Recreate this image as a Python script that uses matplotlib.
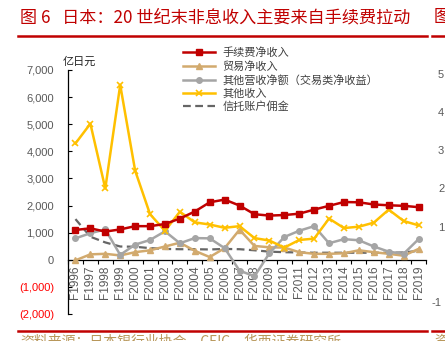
import numpy as np
import matplotlib
matplotlib.use("Agg")
import matplotlib.pyplot as plt

plt.rcParams['font.family'] = ['Liberation Sans', 'Noto Sans CJK SC', 'DejaVu Sans']
CJK = ['Noto Sans CJK SC', 'DejaVu Sans']

years = ['F1996', 'F1997', 'F1998', 'F1999', 'F2000', 'F2001', 'F2002', 'F2003',
         'F2004', 'F2005', 'F2006', 'F2007', 'F2008', 'F2009', 'F2010', 'F2011',
         'F2012', 'F2013', 'F2014', 'F2015', 'F2016', 'F2017', 'F2018', 'F2019']

# 亿日元
fee_net = [1100, 1160, 1040, 1120, 1240, 1240, 1320, 1520, 1780, 2120, 2220, 2000,
           1680, 1630, 1650, 1700, 1850, 1990, 2130, 2120, 2040, 2010, 1990, 1940]
trade_net = [-20, 200, 220, 160, 280, 350, 490, 630, 330, 100, 430, 1110,
             510, 460, 450, 280, 220, 220, 240, 350, 280, 220, 150, 400]
other_op_net = [790, 980, 1120, 180, 560, 730, 1050, 610, 800, 790, 430, -400,
                -610, 240, 840, 1070, 1240, 610, 760, 720, 490, 300, 220, 760]
other_income = [4290, 5020, 2630, 6450, 3290, 1680, 1070, 1770, 1380, 1300, 1180, 1240,
                800, 710, 450, 730, 780, 1520, 1170, 1220, 1370, 1850, 1430, 1270]
trust_fee = [1500, 850, 640, 490, 480, 430, 400, 390, 390, 380, 400, 390,
             350, 300, 280, 270, 260, 260, 260, 260, 260, 260, 270, 330]

labels = ['手续费净收入', '贸易净收入', '其他营收净额（交易类净收益）', '其他收入', '信托账户佣金']
yticks = [-2000, -1000, 0, 1000, 2000, 3000, 4000, 5000, 6000, 7000]

W, H = 445, 341
fig = plt.figure(figsize=(W / 100, H / 100), dpi=100)
ax = fig.add_axes([68 / W, 1 - 314 / H, (426 - 68) / W, (314 - 70) / H])

x = np.arange(len(years))
l1, = ax.plot(x, fee_net, color='#C00000', lw=1.8, marker='s', ms=4.5, zorder=5)
l2, = ax.plot(x, trade_net, color='#D2AA6E', lw=1.8, marker='^', ms=4.5, zorder=3)
l3, = ax.plot(x, other_op_net, color='#A5A5A5', lw=1.8, marker='o', ms=4, zorder=3)
l4, = ax.plot(x, other_income, color='#FFC000', lw=1.8, marker='x', ms=5, mew=1.2, zorder=4)
l5, = ax.plot(x, trust_fee, color='#666666', lw=1.6, ls=(0, (3.5, 2)), zorder=2)

ax.set_xlim(-0.5, len(years) - 0.5)
ax.set_ylim(-2000, 7000)
for s in ['top', 'right']:
    ax.spines[s].set_visible(False)
ax.spines['bottom'].set_position(('data', 0))
ax.spines['bottom'].set_linewidth(0.9)
ax.spines['left'].set_linewidth(0.9)

ax.set_xticks(x)
ax.set_xticklabels(years, rotation=90, fontsize=8.5, color='#595959')
ax.tick_params(axis='x', which='major', length=0, pad=4)
ax.set_xticks(np.arange(-0.5, len(years)), minor=True)
ax.tick_params(axis='x', which='minor', length=3, direction='out', width=0.8)

ax.set_yticks(yticks)
ylab = []
for v in yticks:
    if v < 0:
        ylab.append('({:,})'.format(-v))
    else:
        ylab.append('{:,}'.format(v))
ax.set_yticklabels(ylab, fontsize=8)
ax.tick_params(axis='y', length=3, direction='in', width=0.8, pad=10)
for t, v in zip(ax.get_yticklabels(), yticks):
    t.set_color('#FF0000' if v < 0 else '#595959')

fig.text(63 / W, 1 - 62 / H, '亿日元', family=CJK, fontsize=8, color='#222222', va='center')

fig.legend([l1, l2, l3, l4, l5], labels, loc='upper left',
           bbox_to_anchor=(177 / W, 1 - 42 / H), bbox_transform=fig.transFigure,
           frameon=False, prop={'family': CJK, 'size': 8}, labelcolor='#404040',
           handlelength=2.9, handletextpad=0.7, labelspacing=0.25, borderpad=0)

# 标题与分隔线
fig.text(20 / W, 1 - 17 / H, '图 6   日本：20 世纪末非息收入主要来自手续费拉动',
         family=CJK, fontsize=12.3, color='#C00000', va='center')
fig.text(434 / W, 1 - 17 / H, '图', family=CJK, fontsize=12.3, color='#C00000', va='center')
fig.add_artist(plt.Line2D([18 / W, 427 / W], [1 - 36 / H] * 2, color='#C00000', lw=1.8))
fig.add_artist(plt.Line2D([432 / W, 1], [1 - 36 / H] * 2, color='#C00000', lw=1.8))
fig.add_artist(plt.Line2D([18 / W, 427 / W], [1 - 331 / H] * 2, color='#C00000', lw=1.8))
fig.add_artist(plt.Line2D([432 / W, 1], [1 - 331 / H] * 2, color='#C00000', lw=1.8))
fig.text(20 / W, 1 - 334 / H, '资料来源：日本银行业协会，CEIC，华西证券研究所',
         family=CJK, fontsize=10, color='#B8975A', va='top')
fig.text(434 / W, 1 - 334 / H, '资', family=CJK, fontsize=10, color='#B8975A', va='top')

# 右侧相邻图的刻度
for lab, yy in [('5', 75), ('4', 113), ('3', 151), ('2', 189), ('1', 228), ('-1', 303)]:
    fig.text(438 / W if lab != '-1' else 432 / W, 1 - yy / H, lab, fontsize=8,
             color='#595959', va='center')

fig.savefig('out.png', dpi=100)
